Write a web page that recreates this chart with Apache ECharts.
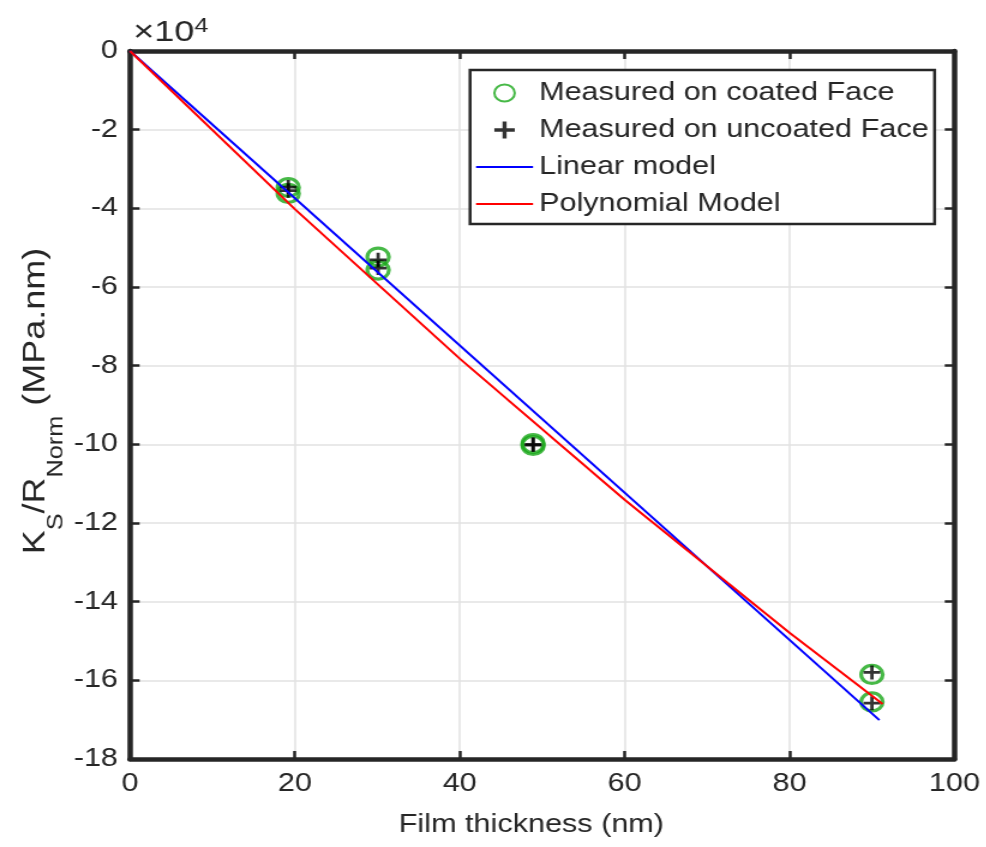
<!DOCTYPE html>
<html>
<head>
<meta charset="utf-8">
<script src="https://cdn.jsdelivr.net/npm/echarts@6/dist/echarts.min.js"></script>
<style>
html,body{margin:0;padding:0;background:#fff;overflow:hidden;}
#chart{position:absolute;left:0;top:0;width:822px;height:847px;transform:scaleX(1.2);transform-origin:0 0;}
</style>
</head>
<body>
<div id="chart"></div>
<script>
// ---- data (y values in MPa.nm; axis shows them in units of 10^4) ----
const thicknessCoated   = [19.2, 19.2, 30.1, 30.1, 48.9, 48.9, 90.0, 90.0];
const coatedValues      = [-34700, -36200, -52400, -55700, -99800, -100300, -158500, -165500];
const thicknessUncoated = [19.2, 19.2, 30.1, 30.1, 48.9, 48.9, 90.0, 90.0];
const uncoatedValues    = [-34600, -35500, -53100, -55200, -100000, -100200, -158000, -165800];
const linearX = [0, 90.9];
const linearY = [0, -170100];
const polyX = [0, 20, 40, 60, 80, 91.3];
const polyY = [0, -40200, -78200, -114100, -147900, -166000];
const seriesNames = ['Measured on coated Face', 'Measured on uncoated Face', 'Linear model', 'Polynomial Model'];
const xTicks = [0, 20, 40, 60, 80, 100];
const yTickStep = 20000;

const zip = (xs, ys) => xs.map((x, i) => [x, ys[i]]);
const FONT = 'Liberation Sans, Arial, Helvetica, sans-serif';
const TXT = '#262626';
const FS = 25.5;
const SX = 1.2; // horizontal stretch applied to the whole page
const plusPath = 'path://M4,0H6V4H10V6H6V10H4V6H0V4H4Z';
const lineIcon = 'path://M0,0H100V4H0Z';

const chart = echarts.init(document.getElementById('chart'), null, {renderer: 'canvas'});

const axisCommon = {
  type: 'value',
  axisLine: {show: true, onZero: false, lineStyle: {color: TXT, width: 4.5}},
  axisTick: {show: true, inside: true, length: 8, lineStyle: {color: TXT, width: 2.5}},
};

chart.setOption({
  animation: false,
  backgroundColor: '#fff',
  textStyle: {fontFamily: FONT, color: TXT},
  grid: {left: 108.3, right: 26.7, top: 51, bottom: 88, containLabel: false},
  xAxis: [
    Object.assign({}, axisCommon, {
      min: xTicks[0], max: xTicks[xTicks.length - 1], interval: 20, position: 'bottom',
      axisLabel: {margin: 12, fontSize: FS, color: TXT, fontFamily: FONT},
      splitLine: {show: true, lineStyle: {color: '#e2e2e2', width: 1.5}},
      name: 'Film thickness (nm)', nameLocation: 'middle', nameGap: 53,
      nameTextStyle: {fontSize: FS, color: TXT, fontFamily: FONT, padding: [0, 18, 0, 0]}
    }),
    Object.assign({}, axisCommon, {
      min: xTicks[0], max: xTicks[xTicks.length - 1], interval: 20, position: 'top',
      axisLabel: {show: false}, splitLine: {show: false}
    })
  ],
  yAxis: [
    Object.assign({}, axisCommon, {
      min: -180000, max: 0, interval: yTickStep, position: 'left',
      axisLabel: {margin: 10, fontSize: FS, color: TXT, fontFamily: FONT,
        formatter: v => String(Math.round(v / 10000))},
      splitLine: {show: true, lineStyle: {color: '#e2e2e2', width: 1.5}}
    }),
    Object.assign({}, axisCommon, {
      min: -180000, max: 0, interval: yTickStep, position: 'right',
      axisLabel: {show: false}, splitLine: {show: false}
    })
  ],
  legend: {
    orient: 'vertical', left: 391.7, top: 70,
    backgroundColor: '#fff', borderColor: TXT, borderWidth: 2.5,
    padding: [8, 5, 5, 5],
    itemWidth: 47.5, itemHeight: 17, itemGap: 7,
    textStyle: {fontSize: FS, lineHeight: 30, color: TXT, fontFamily: FONT},
    data: [
      {name: seriesNames[0]},
      {name: seriesNames[1]},
      {name: seriesNames[2], icon: lineIcon, itemStyle: {color: '#0000ff'}},
      {name: seriesNames[3], icon: lineIcon, itemStyle: {color: '#ff0000'}}
    ]
  },
  graphic: [
    {
      type: 'text', left: 111, top: 16,
      style: {
        text: '{a|×10}{b|4}',
        rich: {
          a: {fontSize: 30, fill: TXT, fontFamily: FONT, verticalAlign: 'bottom', lineHeight: 32},
          b: {fontSize: 21, fill: TXT, fontFamily: FONT, verticalAlign: 'top', lineHeight: 32}
        }
      }
    },
    {
      type: 'text', x: 38 / SX, y: 401, rotation: Math.PI / 2,
      scaleX: SX, scaleY: 1 / SX,
      style: {
        text: '{m|K}{s|S}{m|/R}{s|Norm}{m| (MPa.nm)}',
        align: 'center', verticalAlign: 'middle',
        rich: {
          m: {fontSize: 30, lineHeight: 34, verticalAlign: 'top', fill: TXT, fontFamily: FONT},
          s: {fontSize: 21, lineHeight: 21, padding: [25, 0, 0, 0], verticalAlign: 'top', fill: TXT, fontFamily: FONT}
        }
      }
    }
  ],
  series: [
    {
      name: seriesNames[0], type: 'scatter', symbol: 'circle', symbolSize: 18,
      itemStyle: {color: 'rgba(0,0,0,0)', borderColor: '#19a819', borderWidth: 3.2},
      data: zip(thicknessCoated, coatedValues), z: 2
    },
    {
      name: seriesNames[1], type: 'scatter', symbol: plusPath, symbolSize: 14,
      itemStyle: {color: '#000'},
      data: zip(thicknessUncoated, uncoatedValues), z: 3
    },
    {
      name: seriesNames[2], type: 'line', symbol: 'none',
      lineStyle: {color: '#0000ff', width: 2},
      itemStyle: {color: '#0000ff'},
      data: zip(linearX, linearY), z: 4
    },
    {
      name: seriesNames[3], type: 'line', symbol: 'none',
      lineStyle: {color: '#ff0000', width: 2},
      itemStyle: {color: '#ff0000'},
      data: zip(polyX, polyY), z: 4
    }
  ]
});
</script>
</body>
</html>
